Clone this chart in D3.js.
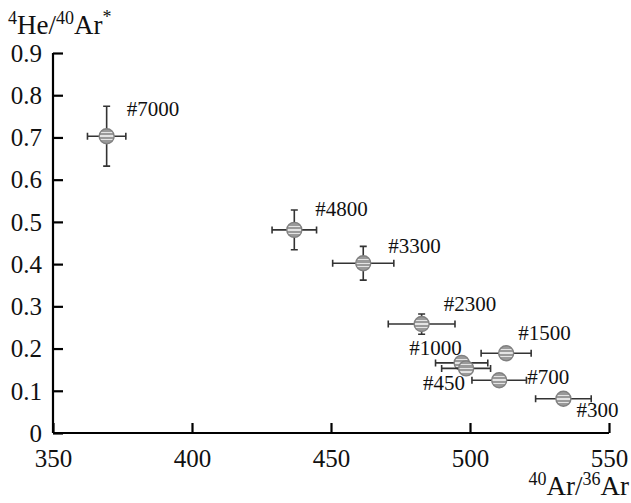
<!DOCTYPE html>
<html>
<head>
<meta charset="utf-8">
<script src="https://cdn.jsdelivr.net/npm/d3@7"></script>
<style>
  body { margin: 0; background: #fff; }
  svg text { font-family: "Liberation Serif", "Times New Roman", serif; fill: #111; }
</style>
</head>
<body>
<svg id="chart" width="631" height="503"></svg>
<script>
const samples = ['#7000', '#4800', '#3300', '#2300', '#1500', '#1000', '#450', '#700', '#300'];
const arRatio = [369.3, 436.8, 461.6, 482.6, 513.0, 497.0, 498.6, 510.5, 533.6];
const arErr   = [6.9, 8.0, 11.0, 12.0, 9.0, 9.4, 8.8, 9.8, 10.0];
const heAr    = [0.703, 0.481, 0.402, 0.258, 0.189, 0.166, 0.153, 0.125, 0.081];
const heErr   = [0.071, 0.047, 0.040, 0.024, 0.010, 0.008, 0.008, 0.006, 0.008];

const xTicks = [350, 400, 450, 500, 550];
const yTicks = [0, 0.1, 0.2, 0.3, 0.4, 0.5, 0.6, 0.7, 0.8, 0.9];

// label placement relative to marker: [dx, dy, anchor]
const labelPos = [[20, -20, 'start'], [21, -14, 'start'], [25, -10, 'start'], [22, -13, 'start'],
                  [12, -13, 'start'], [0, -8, 'end'], [-1, 22, 'end'], [28, 4, 'start'], [13, 18, 'start']];

const svg = d3.select('#chart');
const x = d3.scaleLinear().domain([350, 550]).range([53, 609]);
const y = d3.scaleLinear().domain([0, 0.9]).range([433, 53]);

// striped fill for the markers
const grad = svg.append('defs').append('linearGradient')
  .attr('id', 'stripes').attr('x1', 0).attr('y1', 0).attr('x2', 0).attr('y2', 1);
const bands = [0, 0.22, 0.3, 0.45, 0.55, 0.7, 0.78, 1];
bands.slice(0, -1).forEach((b, i) => {
  const c = i % 2 === 0 ? '#9a9a9a' : '#e4e4e4';
  grad.append('stop').attr('offset', b).attr('stop-color', c);
  grad.append('stop').attr('offset', bands[i + 1]).attr('stop-color', c);
});

// axes
const xAxis = d3.axisBottom(x).tickValues(xTicks).tickSize(-10).tickPadding(24).tickFormat(d3.format('d'));
const yAxis = d3.axisLeft(y).tickValues(yTicks).tickSize(-10).tickPadding(11).tickFormat(d => d === 0 ? '0' : d3.format('.1f')(d));

const gx = svg.append('g').attr('transform', 'translate(0,433)').call(xAxis);
const gy = svg.append('g').attr('transform', 'translate(53,0)').call(yAxis);
[gx, gy].forEach(g => {
  g.attr('font-family', null);
  g.select('.domain').attr('stroke', '#000').attr('stroke-width', 2.2);
  g.selectAll('.tick line').attr('stroke', '#000').attr('stroke-width', 2.2);
  g.selectAll('.tick text').attr('font-size', 25).attr('fill', '#111')
    .style('font-family', '"Liberation Serif", serif');
});
gx.select('.domain').attr('d', 'M53,0H609');
gy.select('.domain').attr('d', 'M0,433V53');
gy.selectAll('.tick text').attr('dy', '0.33em');
gx.selectAll('.tick text').attr('dy', '0.4em');

// axis titles
const yTitle = svg.append('text').attr('x', 8).attr('y', 34).attr('font-size', 27);
yTitle.append('tspan').attr('font-size', 18).attr('dy', -10).text('4');
yTitle.append('tspan').attr('dy', 10).text('He/');
yTitle.append('tspan').attr('font-size', 18).attr('dy', -10).text('40');
yTitle.append('tspan').attr('dy', 10).text('Ar');
yTitle.append('tspan').attr('font-size', 18).attr('dy', -11).text('*');

const xTitle = svg.append('text').attr('x', 629).attr('y', 495).attr('font-size', 27).attr('text-anchor', 'end');
xTitle.append('tspan').attr('font-size', 18).attr('dy', -10).text('40');
xTitle.append('tspan').attr('dy', 10).text('Ar/');
xTitle.append('tspan').attr('font-size', 18).attr('dy', -10).text('36');
xTitle.append('tspan').attr('dy', 10).text('Ar');

// points with error bars
const data = samples.map((s, i) => ({ name: s, x: arRatio[i], xe: arErr[i], y: heAr[i], ye: heErr[i], lp: labelPos[i] }));
const cap = 3.5;
const pts = svg.append('g').selectAll('g').data(data).enter().append('g');

pts.append('path')
  .attr('fill', 'none').attr('stroke', '#333').attr('stroke-width', 1.6)
  .attr('d', d => {
    const x0 = x(d.x - d.xe), x1 = x(d.x + d.xe), cy = y(d.y);
    const y0 = y(d.y - d.ye), y1 = y(d.y + d.ye), cx = x(d.x);
    return `M${x0},${cy}H${x1}M${x0},${cy - cap}V${cy + cap}M${x1},${cy - cap}V${cy + cap}` +
      `M${cx},${y0}V${y1}M${cx - cap},${y0}H${cx + cap}M${cx - cap},${y1}H${cx + cap}`;
  });

pts.append('circle')
  .attr('cx', d => x(d.x)).attr('cy', d => y(d.y)).attr('r', 7.5)
  .attr('fill', 'url(#stripes)').attr('stroke', '#808080').attr('stroke-width', 1.4);

pts.append('text')
  .attr('x', d => x(d.x) + d.lp[0]).attr('y', d => y(d.y) + d.lp[1])
  .attr('text-anchor', d => d.lp[2]).attr('font-size', 21)
  .text(d => d.name);
</script>
</body>
</html>
